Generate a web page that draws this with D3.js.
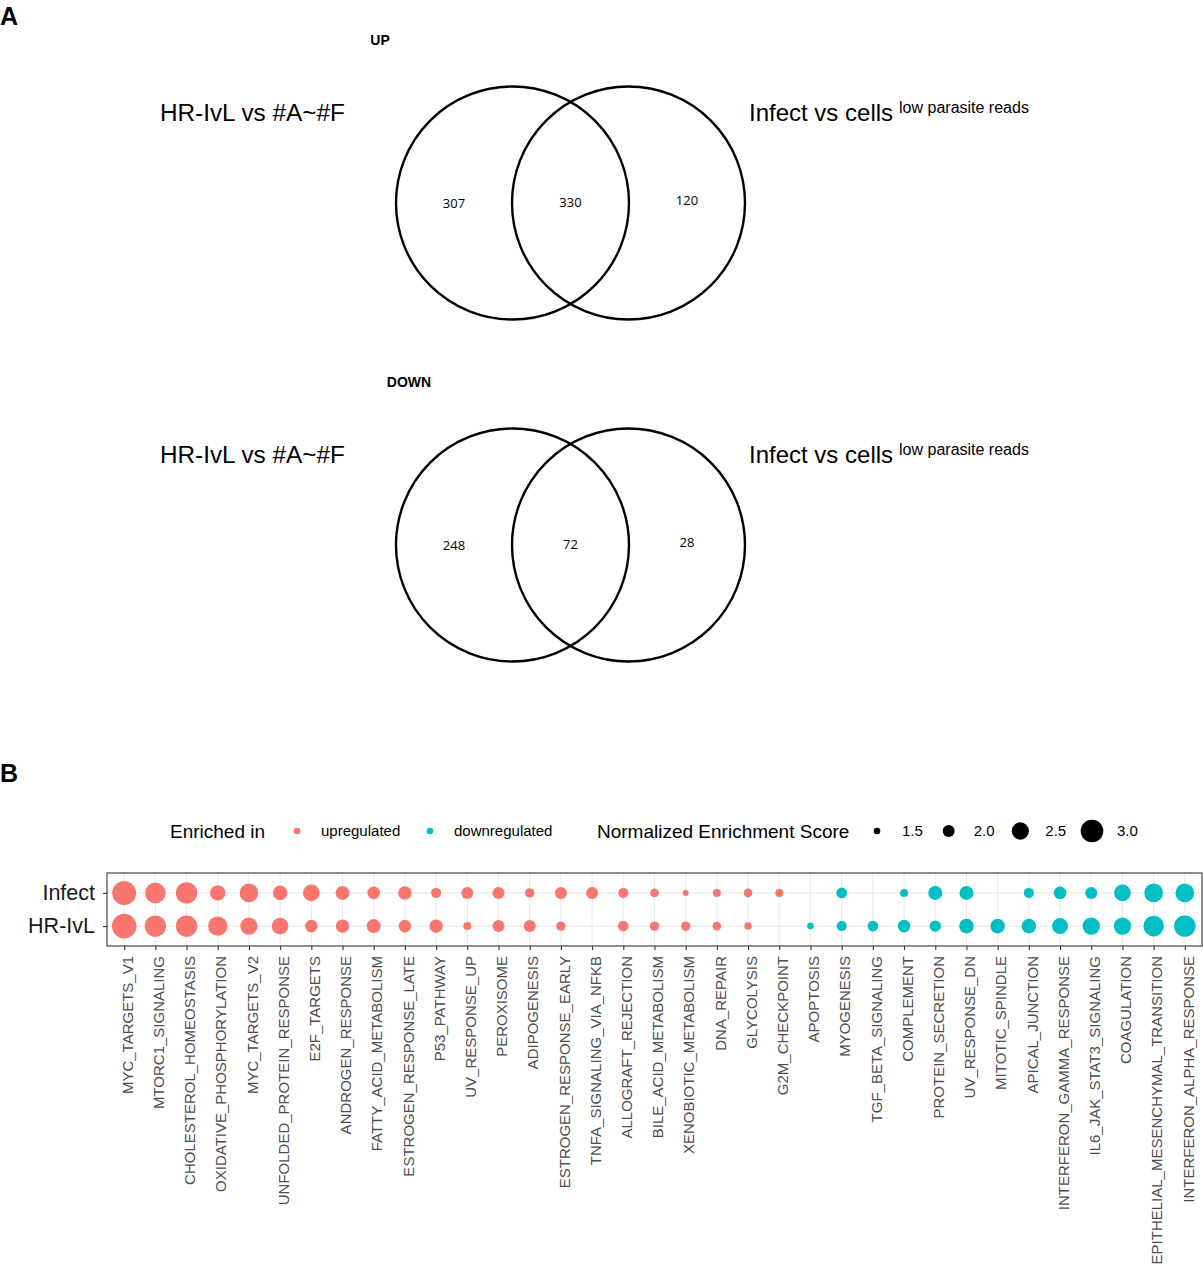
<!DOCTYPE html>
<html>
<head>
<meta charset="utf-8">
<script src="https://cdn.jsdelivr.net/npm/d3@7"></script>
<style>
  html, body { margin: 0; padding: 0; background: #fff; }
  svg { display: block; }
</style>
</head>
<body>
<script>
// ---------- DATA ----------
const vennTitles = ["UP", "DOWN"];
const vennLeftLabel = "HR-IvL vs #A~#F";
const vennRightLabel = "Infect vs cells";
const vennRightSup = "low parasite reads";
const upCounts = [307, 330, 120];     // left only, both, right only
const downCounts = [248, 72, 28];

const categories = [
  "MYC_TARGETS_V1","MTORC1_SIGNALING","CHOLESTEROL_HOMEOSTASIS","OXIDATIVE_PHOSPHORYLATION",
  "MYC_TARGETS_V2","UNFOLDED_PROTEIN_RESPONSE","E2F_TARGETS","ANDROGEN_RESPONSE",
  "FATTY_ACID_METABOLISM","ESTROGEN_RESPONSE_LATE","P53_PATHWAY","UV_RESPONSE_UP",
  "PEROXISOME","ADIPOGENESIS","ESTROGEN_RESPONSE_EARLY","TNFA_SIGNALING_VIA_NFKB",
  "ALLOGRAFT_REJECTION","BILE_ACID_METABOLISM","XENOBIOTIC_METABOLISM","DNA_REPAIR",
  "GLYCOLYSIS","G2M_CHECKPOINT","APOPTOSIS","MYOGENESIS","TGF_BETA_SIGNALING",
  "COMPLEMENT","PROTEIN_SECRETION","UV_RESPONSE_DN","MITOTIC_SPINDLE","APICAL_JUNCTION",
  "INTERFERON_GAMMA_RESPONSE","IL6_JAK_STAT3_SIGNALING","COAGULATION",
  "EPITHELIAL_MESENCHYMAL_TRANSITION","INTERFERON_ALPHA_RESPONSE"
];
const direction = [
  "up","up","up","up","up","up","up","up","up","up","up","up","up","up","up","up",
  "up","up","up","up","up","up",
  "down","down","down","down","down","down","down","down","down","down","down","down","down"
];
const rows = ["Infect", "HR-IvL"];
const nesInfect = [
  3.13,2.81,2.89,2.33,2.63,2.25,2.44,2.19,2.06,2.14,1.82,2.01,2.01,1.76,2.01,2.01,
  1.82,1.69,1.44,1.63,1.69,1.63,
  null,1.88,null,1.63,2.19,2.19,null,1.82,2.06,2.01,2.44,2.63,2.63
];
const nesHR = [
  3.19,2.89,2.89,2.70,2.51,2.44,2.06,2.14,2.19,2.06,2.14,1.63,2.01,2.01,1.76,null,
  1.88,1.76,1.76,1.69,1.58,null,
  1.50,1.82,1.88,2.06,1.95,2.25,2.25,2.25,2.38,2.51,2.51,2.81,2.89
];
const dirLabels = ["upregulated", "downregulated"];
const sizeTicks = [1.5, 2.0, 2.5, 3.0];

// ---------- SETUP ----------
const W = 1203, H = 1268;
const FONT = "'Liberation Sans', Arial, Helvetica, sans-serif";
const svg = d3.select("body").append("svg")
  .attr("width", W).attr("height", H)
  .style("font-family", FONT);

const colUp = "#F8766D", colDown = "#00BFC4";
const colorScale = d3.scaleOrdinal().domain(["up","down"]).range([colUp, colDown]);

// Panel labels
svg.append("text").attr("x", 0).attr("y", 25).text("A")
  .style("font-size", "25px").style("font-weight", "bold");
svg.append("text").attr("x", 0).attr("y", 782).text("B")
  .style("font-size", "25px").style("font-weight", "bold");

// ---------- VENN ----------
function drawVenn(g, title, counts, titleX) {
  const r = 116.5;
  const cx = d3.scaleLinear().domain([0, 1]).range([512.5, 628.5]);
  g.append("text").attr("x", titleX).attr("y", 0).attr("text-anchor", "middle")
    .text(title).style("font-size", "14px").style("font-weight", "bold");
  g.selectAll("circle.venn").data([0, 1]).join("circle")
    .attr("class", "venn")
    .attr("cx", d => cx(d)).attr("cy", 158).attr("r", r)
    .attr("fill", "none").attr("stroke", "#000").attr("stroke-width", 2.4);
  const xs = [
    (cx(0) - r + cx(1) - r) / 2,
    (cx(1) - r + cx(0) + r) / 2,
    (cx(0) + r + cx(1) + r) / 2
  ];
  const dy = [0, -1, -3];
  g.selectAll("text.count").data(counts).join("text")
    .attr("class", "count")
    .attr("x", (d, i) => xs[i]).attr("y", (d, i) => 163 + dy[i])
    .attr("text-anchor", "middle")
    .style("font-family", "'Open Sans', 'Noto Sans', sans-serif")
    .style("font-size", "13px")
    .text(d => d);
  g.append("text").attr("x", 160).attr("y", 76).text(vennLeftLabel)
    .style("font-size", "24.3px");
  const t = g.append("text").attr("x", 749).attr("y", 76).style("font-size", "24px");
  t.append("tspan").text(vennRightLabel);
  t.append("tspan").attr("dx", 6).attr("dy", -8).style("font-size", "16px").text(vennRightSup);
}
drawVenn(svg.append("g").attr("transform", "translate(0,45)"), vennTitles[0], upCounts, 380);
drawVenn(svg.append("g").attr("transform", "translate(0,387)"), vennTitles[1], downCounts, 409);

// ---------- DOT PLOT ----------
const panel = { x0: 107, x1: 1202, y0: 873, y1: 946 };
const x = d3.scalePoint().domain(categories).range([panel.x0, panel.x1]).padding(0.55);
const y = d3.scalePoint().domain(rows).range([panel.y0, panel.y1]).padding(0.6);
const rScale = d3.scaleLinear().domain([1.5, 3.0]).range([3.3, 11.3]);

const points = [];
categories.forEach((c, i) => {
  if (nesInfect[i] != null) points.push({ cat: c, row: "Infect", nes: nesInfect[i], dir: direction[i] });
  if (nesHR[i] != null) points.push({ cat: c, row: "HR-IvL", nes: nesHR[i], dir: direction[i] });
});

const plot = svg.append("g");
plot.append("rect").attr("x", panel.x0).attr("y", panel.y0)
  .attr("width", panel.x1 - panel.x0).attr("height", panel.y1 - panel.y0).attr("fill", "#fff");
// grid
plot.selectAll("line.gx").data(categories).join("line").attr("class", "gx")
  .attr("x1", d => x(d)).attr("x2", d => x(d)).attr("y1", panel.y0).attr("y2", panel.y1)
  .attr("stroke", "#EBEBEB").attr("stroke-width", 1.1);
plot.selectAll("line.gy").data(rows).join("line").attr("class", "gy")
  .attr("y1", d => y(d)).attr("y2", d => y(d)).attr("x1", panel.x0).attr("x2", panel.x1)
  .attr("stroke", "#EBEBEB").attr("stroke-width", 1.1);
// points
plot.selectAll("circle.pt").data(points).join("circle").attr("class", "pt")
  .attr("cx", d => x(d.cat)).attr("cy", d => y(d.row))
  .attr("r", d => rScale(d.nes)).attr("fill", d => colorScale(d.dir));
// border
plot.append("rect").attr("x", panel.x0).attr("y", panel.y0)
  .attr("width", panel.x1 - panel.x0).attr("height", panel.y1 - panel.y0)
  .attr("fill", "none").attr("stroke", "#333333").attr("stroke-width", 1.1);

// axes
const xAxis = d3.axisBottom(x).tickSize(4).tickSizeOuter(0).tickPadding(4);
const gx = plot.append("g").attr("transform", `translate(0,${panel.y1})`).call(xAxis);
gx.select(".domain").remove();
gx.selectAll(".tick line").attr("stroke", "#333333").attr("stroke-width", 1.1);
gx.selectAll(".tick text")
  .attr("transform", "rotate(-90)")
  .attr("x", -10).attr("y", 0).attr("dy", "0.55em")
  .attr("text-anchor", "end")
  .style("font-family", FONT).style("font-size", "15px").attr("fill", "#4D4D4D");

const yAxis = d3.axisLeft(y).tickSize(4).tickSizeOuter(0).tickPadding(8);
const gy = plot.append("g").attr("transform", `translate(${panel.x0},0)`).call(yAxis);
gy.select(".domain").remove();
gy.selectAll(".tick line").attr("stroke", "#333333").attr("stroke-width", 1.1);
gy.selectAll(".tick text").style("font-family", FONT).style("font-size", "21.5px").attr("fill", "#1A1A1A");

// ---------- LEGEND ----------
const lg = svg.append("g").attr("transform", "translate(0,831)");
lg.append("text").attr("x", 170).attr("y", 0).attr("dy", "0.35em").text("Enriched in")
  .style("font-size", "19px");
const dirX = [297, 430];
lg.selectAll("circle.dl").data(dirLabels).join("circle").attr("class", "dl")
  .attr("cx", (d, i) => dirX[i]).attr("cy", 0).attr("r", 3.3)
  .attr("fill", (d, i) => i === 0 ? colUp : colDown);
lg.selectAll("text.dl").data(dirLabels).join("text").attr("class", "dl")
  .attr("x", (d, i) => dirX[i] + 24).attr("y", 0).attr("dy", "0.35em")
  .style("font-size", "15px").text(d => d);
lg.append("text").attr("x", 597).attr("y", 0).attr("dy", "0.35em").text("Normalized Enrichment Score")
  .style("font-size", "19px");
const sizeX = d3.scalePoint().domain(sizeTicks).range([877, 1092]);
lg.selectAll("circle.sl").data(sizeTicks).join("circle").attr("class", "sl")
  .attr("cx", d => sizeX(d)).attr("cy", 0).attr("r", d => rScale(d)).attr("fill", "#000");
lg.selectAll("text.sl").data(sizeTicks).join("text").attr("class", "sl")
  .attr("x", d => sizeX(d) + 25).attr("y", 0).attr("dy", "0.35em")
  .style("font-size", "15px").text(d => d.toFixed(1));
</script>
</body>
</html>
